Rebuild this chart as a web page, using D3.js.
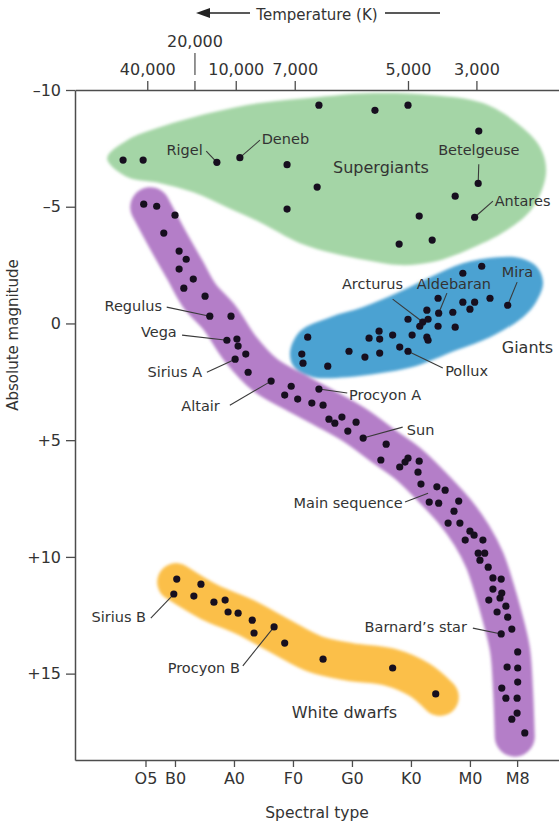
<!DOCTYPE html>
<html>
<head>
<meta charset="utf-8">
<script src="https://cdn.jsdelivr.net/npm/d3@7"></script>
<style>
  body { margin: 0; background: #fff; }
</style>
</head>
<body>
<div id="graphic"></div>
<script>
// spectral type as a running index: O5 = 5, B0 = 10, A0 = 20 ... M0 = 60, M8 = 68
const spectralTicks = [5, 10, 20, 30, 40, 50, 60, 68];
const spectralLabels = ['O5', 'B0', 'A0', 'F0', 'G0', 'K0', 'M0', 'M8'];
const tempTicks = [5.3, 13.3, 20.3, 30.3, 49.5, 61.1];
const tempLabels = ['40,000', '20,000', '10,000', '7,000', '5,000', '3,000'];
const magTicks = [-10, -5, 0, 5, 10, 15];

// stars: [spectral index, absolute magnitude]
const supergiants = [
  [1.2, -7.0], [4.6, -7.0], [17.1, -6.9], [21.0, -7.1], [29.0, -6.8], [29.0, -4.9],
  [34.4, -9.35], [34.1, -5.84], [43.9, -9.13], [49.5, -9.35], [61.5, -8.24], [61.4, -6.0],
  [57.5, -5.45], [60.8, -4.55], [51.4, -4.6], [48.0, -3.4], [53.6, -3.57]
];
const giants = [
  [62.0, -2.45], [58.8, -2.15], [63.4, -1.08], [66.4, -0.78], [58.8, -0.91], [60.8, -0.91],
  [60.0, -0.61], [57.1, -0.48], [54.7, -0.44], [54.6, -1.08], [52.7, -0.57], [49.5, -0.18],
  [52.0, -0.06], [52.9, -0.18], [51.5, 0.12], [54.6, 0.12], [57.5, 0.16], [50.2, 0.5],
  [52.7, 0.59], [52.9, 0.72], [46.9, 0.5], [44.6, 0.33], [44.7, 0.67], [42.9, 0.63],
  [32.5, 0.59], [48.1, 1.01], [49.5, 1.19], [44.7, 1.27], [42.2, 1.44], [39.5, 1.19],
  [31.5, 1.31], [31.7, 1.7], [35.9, 1.83]
];
const mainSequence = [
  [4.7, -5.11], [6.9, -5.02], [10.0, -4.64], [8.1, -3.87], [10.7, -3.1], [11.9, -2.75],
  [10.7, -2.33], [13.1, -1.9], [11.5, -1.51], [15.1, -1.17], [15.9, -0.31], [19.5, -0.31],
  [18.8, 0.72], [20.5, 0.67], [20.7, 0.97], [22.0, 1.31], [20.2, 1.53], [22.4, 2.09],
  [26.3, 2.47], [29.7, 2.69], [28.6, 3.07], [30.8, 3.24], [33.2, 3.41], [35.1, 3.5],
  [34.4, 2.81], [36.1, 4.1], [37.1, 4.27], [38.3, 4.01], [40.7, 4.23], [39.3, 4.61],
  [41.9, 4.91], [45.8, 5.17], [44.9, 5.85], [48.1, 6.15], [49.0, 5.94], [49.5, 5.77],
  [51.4, 5.9], [51.2, 6.37], [51.7, 6.88], [54.4, 7.0], [55.8, 7.14], [53.1, 7.65],
  [54.7, 7.7], [56.3, 8.55], [58.1, 7.61], [57.3, 8.04], [58.3, 8.55], [60.0, 8.9],
  [60.7, 9.07], [62.2, 9.28], [59.2, 9.28], [61.4, 9.84], [62.5, 9.84], [61.7, 10.14],
  [63.1, 10.44], [63.9, 10.9], [65.3, 10.95], [63.9, 11.38], [65.4, 11.55], [65.1, 11.76],
  [63.2, 11.85], [66.1, 12.11], [64.6, 12.36], [66.4, 12.58], [67.1, 13.09], [65.3, 13.3],
  [68.1, 14.07], [66.3, 14.72], [68.1, 14.76], [68.1, 15.36], [65.4, 15.62], [66.1, 16.05],
  [68.0, 16.05], [68.0, 16.69], [67.1, 16.95], [69.3, 17.54]
];
const whiteDwarfs = [
  [10.3, 10.95], [9.8, 11.59], [14.4, 11.17], [13.2, 11.68], [16.6, 11.94], [18.5, 11.85],
  [19.0, 12.36], [20.7, 12.41], [23.1, 12.71], [23.4, 13.26], [26.8, 13.0], [28.6, 13.69],
  [35.1, 14.38], [46.9, 14.76], [54.2, 15.87]
];

// shaded zones (outlines and band tracks), same units
const supergiantZone = [
  [-1.5, -7.08], [1.9, -7.85], [7.5, -8.41], [15.9, -9.01], [24.4, -9.44], [34.1, -9.69],
  [42.5, -9.86], [53.7, -9.78], [62.2, -9.44], [68.0, -8.58], [71.9, -7.55], [72.9, -6.44],
  [70.7, -4.98], [66.3, -4.0], [59.5, -3.14], [53.7, -2.63], [48.1, -2.5], [42.5, -2.71],
  [36.8, -3.01], [31.2, -3.44], [24.4, -4.34], [18.8, -4.98], [13.1, -5.62], [7.5, -6.01],
  [1.9, -6.27]
];
const giantZone = [
  [29.5, 1.23], [31.2, 0.33], [36.3, -0.27], [41.9, -0.7], [47.6, -1.3], [53.2, -1.98],
  [58.8, -2.58], [64.6, -2.84], [68.5, -2.8], [71.4, -2.41], [72.4, -1.73], [71.2, -0.91],
  [69.0, -0.27], [63.4, 0.59], [57.8, 1.14], [50.3, 1.87], [44.7, 2.13], [39.2, 2.3],
  [33.4, 2.3], [30.2, 1.87]
];
const mainSequenceTrack = [
  [5.8, -4.98], [8.8, -3.57], [11.7, -2.28], [14.2, -1.17], [17.6, -0.23], [21.0, 1.06],
  [25.3, 2.21], [30.3, 2.94], [35.4, 3.63], [40.5, 4.36], [45.6, 5.3], [49.8, 6.07],
  [54.1, 7.14], [57.5, 8.08], [60.3, 9.07], [62.5, 10.14], [64.2, 11.42], [65.4, 12.49],
  [66.8, 13.99], [67.3, 15.7], [67.6, 17.7]
];
const whiteDwarfTrack = [
  [10.2, 11.08], [15.9, 11.94], [21.9, 12.58], [27.8, 13.39], [33.7, 14.16], [39.7, 14.5],
  [46.4, 14.72], [51.5, 15.27], [54.9, 16.0]
];

// named stars: label point, leader start, leader end
const starLabels = [
  {name: 'Rigel', at: [14.7, -7.21], anchor: 'end', from: [15.3, -7.38], to: [17.1, -6.9]},
  {name: 'Deneb', at: [24.7, -7.68], anchor: 'start', from: [24.4, -7.85], to: [21.0, -7.1]},
  {name: 'Betelgeuse', at: [61.5, -7.21], anchor: 'middle', from: [61.5, -6.82], to: [61.4, -6.0]},
  {name: 'Antares', at: [64.2, -5.02], anchor: 'start', from: [63.9, -5.24], to: [60.8, -4.55]},
  {name: 'Arcturus', at: [38.3, -1.47], anchor: 'start', from: [46.9, -1.04], to: [52.0, -0.06]},
  {name: 'Aldebaran', at: [51.0, -1.47], anchor: 'start', from: [56.1, -1.3], to: [54.7, -0.44]},
  {name: 'Mira', at: [65.4, -1.98], anchor: 'start', from: [68.0, -1.77], to: [66.4, -0.78]},
  {name: 'Pollux', at: [55.8, 2.26], anchor: 'start', from: [55.4, 1.91], to: [49.5, 1.19]},
  {name: 'Regulus', at: [7.8, -0.53], anchor: 'end', from: [8.6, -0.7], to: [15.9, -0.31]},
  {name: 'Vega', at: [10.3, 0.59], anchor: 'end', from: [11.2, 0.5], to: [18.8, 0.72]},
  {name: 'Sirius A', at: [14.6, 2.3], anchor: 'end', from: [15.4, 2.09], to: [20.2, 1.53]},
  {name: 'Altair', at: [17.6, 3.76], anchor: 'end', from: [19.3, 3.5], to: [26.3, 2.47]},
  {name: 'Procyon A', at: [39.5, 3.28], anchor: 'start', from: [39.2, 2.98], to: [34.4, 2.81]},
  {name: 'Sun', at: [49.3, 4.78], anchor: 'start', from: [48.6, 4.44], to: [41.9, 4.91]},
  {name: 'Main sequence', at: [48.6, 7.91], anchor: 'end', from: [49.0, 7.65], to: [52.9, 7.27]},
  {name: 'Barnard\u2019s star', at: [59.5, 13.22], anchor: 'end', from: [60.5, 13.05], to: [65.3, 13.3]},
  {name: 'Sirius B', at: [5.1, 12.79], anchor: 'end', from: [5.9, 12.62], to: [9.8, 11.59]},
  {name: 'Procyon B', at: [21.0, 14.97], anchor: 'end', from: [21.5, 14.67], to: [26.8, 13.0]}
];
const zoneLabels = [
  {name: 'Supergiants', at: [36.8, -6.44]},
  {name: 'Giants', at: [65.4, 1.27]},
  {name: 'White dwarfs', at: [29.8, 16.9]}
];

const width = 559;
const height = 830;
const axisColor = '#4d4d4d';
const textColor = '#333';

const x = d3.scaleLinear().domain([-6.95, 75.1]).range([75, 559]);
const y = d3.scaleLinear().domain([-10, 18.7]).range([90, 760]);

let svg = d3.select("#graphic")
  .append("svg")
  .attr("width", width)
  .attr("height", height)
  .attr("font-family", "'DejaVu Sans', sans-serif")
  .attr("fill", textColor);

svg.append("defs")
  .append("filter")
    .attr("id", "soft")
  .append("feGaussianBlur")
    .attr("stdDeviation", 1.4);

const blob = d3.line()
  .x(d => x(d[0]))
  .y(d => y(d[1]))
  .curve(d3.curveCatmullRomClosed.alpha(0.5));
const track = d3.line()
  .x(d => x(d[0]))
  .y(d => y(d[1]))
  .curve(d3.curveCatmullRom.alpha(0.5));

let zones = svg.append("g").attr("filter", "url(#soft)");
zones.append("path")
  .attr("d", blob(supergiantZone))
  .attr("fill", "#a4d5a6");
zones.append("path")
  .attr("d", blob(giantZone))
  .attr("fill", "#4ba2d2");
zones.append("path")
  .attr("d", track(mainSequenceTrack))
  .attr("fill", "none")
  .attr("stroke", "#b47ec8")
  .attr("stroke-width", 40)
  .attr("stroke-linecap", "round")
  .attr("stroke-linejoin", "round");
zones.append("path")
  .attr("d", track(whiteDwarfTrack))
  .attr("fill", "none")
  .attr("stroke", "#fbbf48")
  .attr("stroke-width", 38)
  .attr("stroke-linecap", "round")
  .attr("stroke-linejoin", "round");

// leader lines under the dots
svg.append("g")
  .selectAll("line")
  .data(starLabels)
  .join("line")
    .attr("x1", d => x(d.from[0]))
    .attr("y1", d => y(d.from[1]))
    .attr("x2", d => x(d.to[0]))
    .attr("y2", d => y(d.to[1]))
    .attr("stroke", "#3a3a3a")
    .attr("stroke-width", 1.1);

const allStars = [].concat(supergiants, giants, mainSequence, whiteDwarfs);
svg.append("g")
  .selectAll("circle")
  .data(allStars)
  .join("circle")
    .attr("cx", d => x(d[0]))
    .attr("cy", d => y(d[1]))
    .attr("r", 3.6)
    .attr("fill", "#170f1f");

svg.append("g")
  .attr("font-size", 14.5)
  .selectAll("text")
  .data(starLabels)
  .join("text")
    .attr("x", d => x(d.at[0]))
    .attr("y", d => y(d.at[1]))
    .attr("text-anchor", d => d.anchor)
    .text(d => d.name);

svg.append("g")
  .attr("font-size", 16)
  .selectAll("text")
  .data(zoneLabels)
  .join("text")
    .attr("x", d => x(d.at[0]))
    .attr("y", d => y(d.at[1]))
    .text(d => d.name);

// axes
function styleAxis(g) {
  g.select(".domain").attr("stroke", axisColor).attr("stroke-width", 1.5);
  g.selectAll(".tick line").attr("stroke", axisColor).attr("stroke-width", 1.3);
  g.selectAll(".tick text").attr("fill", textColor).attr("font-size", 16);
  g.attr("font-family", null);
}

const magFormat = d => d > 0 ? '+' + d : (d < 0 ? '\u2013' + (-d) : '0');

svg.append("g")
  .attr("transform", `translate(${x.range()[0]},0)`)
  .call(d3.axisLeft(y).tickValues(magTicks).tickFormat(magFormat)
    .tickSize(9).tickPadding(5).tickSizeOuter(0))
  .call(styleAxis);

svg.append("g")
  .attr("transform", `translate(0,${y.range()[1]})`)
  .call(d3.axisBottom(x).tickValues(spectralTicks).tickFormat((d, i) => spectralLabels[i])
    .tickSize(7).tickPadding(6).tickSizeOuter(0))
  .call(styleAxis);

let topAxis = svg.append("g")
  .attr("transform", `translate(0,${y.range()[0]})`)
  .call(d3.axisTop(x).tickValues(tempTicks).tickFormat((d, i) => tempLabels[i])
    .tickSize(9).tickPadding(6).tickSizeOuter(0))
  .call(styleAxis);

// 20,000 sits above the row with a short marker line
let raised = topAxis.selectAll(".tick").filter((d, i) => i === 1);
raised.select("text").attr("y", -43);
raised.append("line")
  .attr("y1", -37)
  .attr("y2", -15)
  .attr("stroke", axisColor)
  .attr("stroke-width", 1.2);

// temperature heading with arrow
svg.append("text")
  .attr("x", 317)
  .attr("y", 20)
  .attr("text-anchor", "middle")
  .attr("font-size", 15)
  .text("Temperature (K)");
svg.append("path")
  .attr("d", "M196,13 L210,8 L210,18 Z")
  .attr("fill", "#222");
svg.append("line")
  .attr("x1", 206).attr("x2", 250)
  .attr("y1", 13).attr("y2", 13)
  .attr("stroke", "#222").attr("stroke-width", 1.6);
svg.append("line")
  .attr("x1", 385).attr("x2", 440)
  .attr("y1", 13).attr("y2", 13)
  .attr("stroke", "#222").attr("stroke-width", 1.6);

svg.append("text")
  .attr("x", 317)
  .attr("y", 818)
  .attr("text-anchor", "middle")
  .attr("font-size", 15.5)
  .text("Spectral type");

svg.append("text")
  .attr("transform", "translate(18,335) rotate(-90)")
  .attr("text-anchor", "middle")
  .attr("font-size", 15)
  .text("Absolute magnitude");
</script>
</body>
</html>
